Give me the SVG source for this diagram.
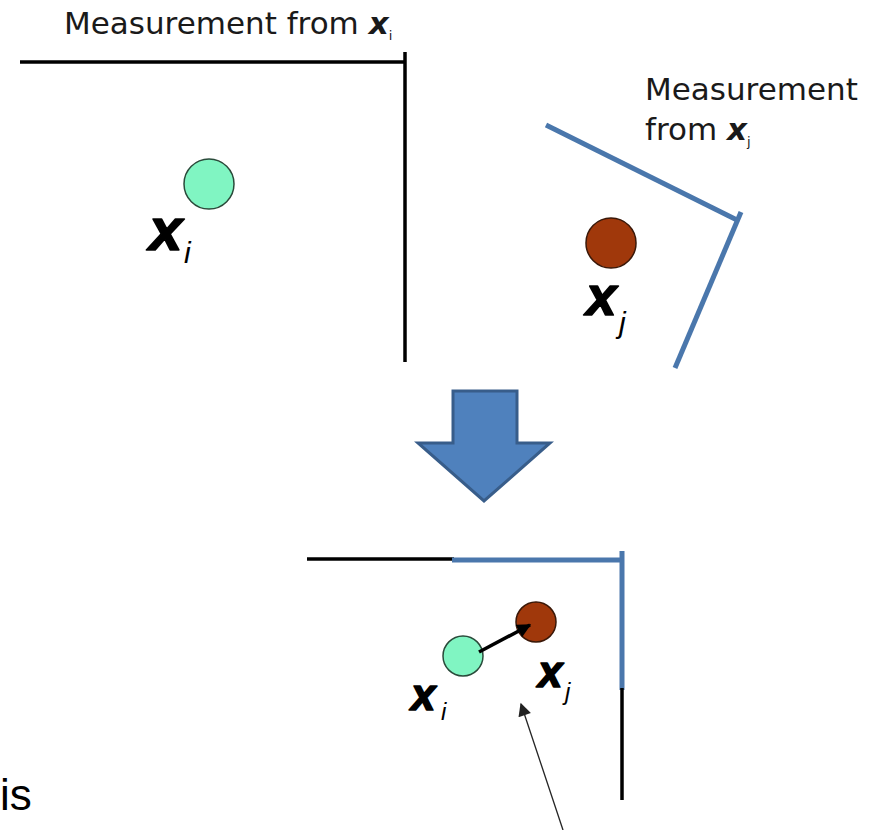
<svg xmlns="http://www.w3.org/2000/svg" width="883" height="830" viewBox="0 0 883 830">
<defs>
<marker id="ah" viewBox="0 0 10 10" refX="9" refY="5" markerWidth="4" markerHeight="4" orient="auto" markerUnits="strokeWidth"><path d="M0,0 L10,5 L0,10 z" fill="#000"/></marker>
<marker id="ahThin" viewBox="0 0 10 10" refX="9" refY="5" markerWidth="12" markerHeight="10" orient="auto" markerUnits="strokeWidth"><path d="M0,0 L10,5 L0,10 z" fill="#222"/></marker>
<style>
.lbl{font-family:"DejaVu Sans",sans-serif;font-size:31px;fill:#1a1a1a}
.bx{font-family:"Liberation Sans",Arial,sans-serif;font-weight:bold;font-style:italic;fill:#000;stroke:#000;stroke-width:1.6;stroke-linejoin:round}
.sub{font-family:"Liberation Sans",Arial,sans-serif;font-style:italic;fill:#000}
.blk{stroke:#000;stroke-width:3.5;fill:none}
.blu{stroke:#4a77ac;stroke-width:5;fill:none}
.g{fill:#80f5c2;stroke:#2a4a3a;stroke-width:1.5}
.b{fill:#a0380b;stroke:#3a1808;stroke-width:1.5}
</style>
</defs>
<rect width="883" height="830" fill="#fff"/>

<g id="frame-i">
<line class="blk" x1="20" y1="62" x2="405" y2="62"/>
<line class="blk" x1="405" y1="52" x2="405" y2="362"/>
<text class="lbl" x="64" y="34">Measurement from <tspan font-weight="bold" font-style="italic">x</tspan><tspan font-size="13" dy="6">i</tspan></text>
</g>

<g id="node-xi">
<circle class="g" cx="209" cy="184" r="25"/>
<text class="bx" x="149" y="250" font-size="60">x</text>
<text class="sub" x="184" y="263" font-size="30">i</text>
</g>

<g id="frame-j">
<line class="blu" x1="546" y1="125" x2="737" y2="220"/>
<line class="blu" x1="741" y1="212" x2="675" y2="368"/>
<text class="lbl" x="645" y="100">Measurement</text>
<text class="lbl" x="645" y="140">from <tspan font-weight="bold" font-style="italic">x</tspan><tspan font-size="13" dy="6">j</tspan></text>
</g>

<g id="node-xj">
<circle class="b" cx="611" cy="243" r="25"/>
<text class="bx" x="586" y="315" font-size="55">x</text>
<text class="sub" x="619" y="333" font-size="30">j</text>
</g>

<g id="down-arrow">
<polygon points="453,391 517,391 517,443 550,443 484,501 418,443 453,443" fill="#4f81bd" stroke="#385d8a" stroke-width="3" stroke-linejoin="miter"/>
</g>

<g id="frame-merged">
<line class="blk" x1="307" y1="559" x2="454" y2="559" stroke-width="3"/>
<line class="blu" x1="452" y1="560" x2="622" y2="560"/>
<line class="blu" x1="622" y1="551" x2="622" y2="690"/>
<line class="blk" x1="622" y1="688" x2="622" y2="800" stroke-width="3"/>
</g>

<g id="node-xi-merged">
<circle class="g" cx="463" cy="656" r="20"/>
<text class="bx" x="411" y="710" font-size="44">x</text>
<text class="sub" x="441" y="720" font-size="24">i</text>
</g>

<g id="node-xj-merged">
<circle class="b" cx="536" cy="622" r="20"/>
<text class="bx" x="538" y="687" font-size="44">x</text>
<text class="sub" x="565" y="700" font-size="24">j</text>
</g>

<g id="connectors">
<line x1="479" y1="652" x2="530" y2="625" stroke="#000" stroke-width="3.5" marker-end="url(#ah)"/>
<line x1="563" y1="830" x2="521" y2="704" stroke="#222" stroke-width="1.3" marker-end="url(#ahThin)"/>
</g>

<text x="0" y="810" font-family="Liberation Sans,Arial,sans-serif" font-size="44" fill="#000">is</text>
</svg>
